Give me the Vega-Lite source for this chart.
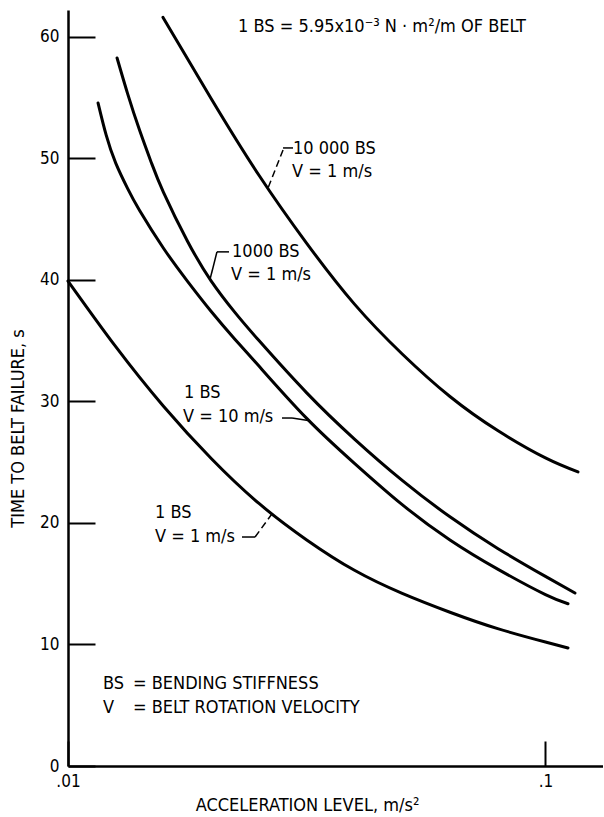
{
  "$schema": "https://vega.github.io/schema/vega-lite/v6.json",
  "width": 535,
  "height": 756,
  "autosize": {"type": "none"},
  "padding": {"left": 68, "top": 10, "right": 0, "bottom": 51},
  "background": "white",
  "config": {
    "view": {"stroke": null},
    "font": "DejaVu Sans Condensed",
    "text": {"font": "DejaVu Sans Condensed", "fontSize": 18, "color": "black"},
    "axis": {
      "labelFont": "DejaVu Sans Condensed",
      "titleFont": "DejaVu Sans Condensed",
      "labelFontSize": 17,
      "titleFontSize": 18,
      "titleFontWeight": "normal",
      "labelColor": "black",
      "titleColor": "black",
      "domainColor": "black",
      "tickColor": "black",
      "domainWidth": 2.5,
      "tickWidth": 2,
      "grid": false,
      "labelFlush": false,
      "labelOverlap": false
    }
  },
  "datasets": {
    "curves": [
      {"series": "1 BS, V = 1 m/s", "a": 0.01, "t": 39.9},
      {"series": "1 BS, V = 1 m/s", "a": 0.012589, "t": 34.5},
      {"series": "1 BS, V = 1 m/s", "a": 0.015849, "t": 29.6},
      {"series": "1 BS, V = 1 m/s", "a": 0.019953, "t": 25.3},
      {"series": "1 BS, V = 1 m/s", "a": 0.025119, "t": 21.6},
      {"series": "1 BS, V = 1 m/s", "a": 0.031623, "t": 18.6},
      {"series": "1 BS, V = 1 m/s", "a": 0.039811, "t": 16.1},
      {"series": "1 BS, V = 1 m/s", "a": 0.050119, "t": 14.2},
      {"series": "1 BS, V = 1 m/s", "a": 0.063096, "t": 12.65},
      {"series": "1 BS, V = 1 m/s", "a": 0.079433, "t": 11.3},
      {"series": "1 BS, V = 1 m/s", "a": 0.1, "t": 10.2},
      {"series": "1 BS, V = 1 m/s", "a": 0.1115, "t": 9.71},

      {"series": "1 BS, V = 10 m/s", "a": 0.01156, "t": 54.55},
      {"series": "1 BS, V = 10 m/s", "a": 0.012023, "t": 51.9},
      {"series": "1 BS, V = 10 m/s", "a": 0.012589, "t": 49.6},
      {"series": "1 BS, V = 10 m/s", "a": 0.013335, "t": 47.5},
      {"series": "1 BS, V = 10 m/s", "a": 0.014125, "t": 45.7},
      {"series": "1 BS, V = 10 m/s", "a": 0.015849, "t": 42.6},
      {"series": "1 BS, V = 10 m/s", "a": 0.017783, "t": 39.9},
      {"series": "1 BS, V = 10 m/s", "a": 0.019953, "t": 37.4},
      {"series": "1 BS, V = 10 m/s", "a": 0.022387, "t": 35.1},
      {"series": "1 BS, V = 10 m/s", "a": 0.025119, "t": 32.9},
      {"series": "1 BS, V = 10 m/s", "a": 0.031623, "t": 28.6},
      {"series": "1 BS, V = 10 m/s", "a": 0.039811, "t": 24.9},
      {"series": "1 BS, V = 10 m/s", "a": 0.050119, "t": 21.5},
      {"series": "1 BS, V = 10 m/s", "a": 0.063096, "t": 18.6},
      {"series": "1 BS, V = 10 m/s", "a": 0.079433, "t": 16.2},
      {"series": "1 BS, V = 10 m/s", "a": 0.1, "t": 14.1},
      {"series": "1 BS, V = 10 m/s", "a": 0.1115, "t": 13.35},

      {"series": "1000 BS, V = 1 m/s", "a": 0.01267, "t": 58.25},
      {"series": "1000 BS, V = 1 m/s", "a": 0.013335, "t": 55.3},
      {"series": "1000 BS, V = 1 m/s", "a": 0.014125, "t": 52.3},
      {"series": "1000 BS, V = 1 m/s", "a": 0.014962, "t": 49.6},
      {"series": "1000 BS, V = 1 m/s", "a": 0.015849, "t": 47.2},
      {"series": "1000 BS, V = 1 m/s", "a": 0.017783, "t": 43.2},
      {"series": "1000 BS, V = 1 m/s", "a": 0.019953, "t": 39.9},
      {"series": "1000 BS, V = 1 m/s", "a": 0.022387, "t": 37.3},
      {"series": "1000 BS, V = 1 m/s", "a": 0.025119, "t": 35.0},
      {"series": "1000 BS, V = 1 m/s", "a": 0.031623, "t": 30.7},
      {"series": "1000 BS, V = 1 m/s", "a": 0.039811, "t": 26.9},
      {"series": "1000 BS, V = 1 m/s", "a": 0.050119, "t": 23.5},
      {"series": "1000 BS, V = 1 m/s", "a": 0.063096, "t": 20.5},
      {"series": "1000 BS, V = 1 m/s", "a": 0.079433, "t": 17.9},
      {"series": "1000 BS, V = 1 m/s", "a": 0.1, "t": 15.6},
      {"series": "1000 BS, V = 1 m/s", "a": 0.1153, "t": 14.23},

      {"series": "10 000 BS, V = 1 m/s", "a": 0.01581, "t": 61.6},
      {"series": "10 000 BS, V = 1 m/s", "a": 0.019953, "t": 54.9},
      {"series": "10 000 BS, V = 1 m/s", "a": 0.025119, "t": 48.6},
      {"series": "10 000 BS, V = 1 m/s", "a": 0.031623, "t": 43.0},
      {"series": "10 000 BS, V = 1 m/s", "a": 0.039811, "t": 38.0},
      {"series": "10 000 BS, V = 1 m/s", "a": 0.050119, "t": 33.9},
      {"series": "10 000 BS, V = 1 m/s", "a": 0.063096, "t": 30.4},
      {"series": "10 000 BS, V = 1 m/s", "a": 0.079433, "t": 27.6},
      {"series": "10 000 BS, V = 1 m/s", "a": 0.1, "t": 25.35},
      {"series": "10 000 BS, V = 1 m/s", "a": 0.117, "t": 24.2}
    ],
    "labels": [
      {"a": 0.0296, "t": 50.76, "text": "10 000 BS"},
      {"a": 0.02946, "t": 48.87, "text": "V = 1 m/s"},
      {"a": 0.02206, "t": 42.25, "text": "1000 BS"},
      {"a": 0.02195, "t": 40.4, "text": "V = 1 m/s"},
      {"a": 0.0175, "t": 30.7, "text": "1 BS"},
      {"a": 0.01741, "t": 28.7, "text": "V = 10 m/s"},
      {"a": 0.01521, "t": 20.8, "text": "1 BS"},
      {"a": 0.01521, "t": 18.84, "text": "V = 1 m/s"},
      {"a": 0.01184, "t": 6.75, "text": "BS"},
      {"a": 0.01184, "t": 4.77, "text": "V"},
      {"a": 0.01368, "t": 6.75, "text": "= BENDING STIFFNESS"},
      {"a": 0.01368, "t": 4.77, "text": "= BELT ROTATION VELOCITY"},
      {"a": 0.02271, "t": 60.8, "text": "1 BS = 5.95x10⁻³ N · m²/m OF BELT"}
    ],
    "leadersSolid": [
      {"a": 0.02821, "t": 50.85, "a2": 0.0296, "t2": 50.85},
      {"a": 0.02051, "t": 42.3, "a2": 0.02174, "t2": 42.3},
      {"a": 0.02051, "t": 42.3, "a2": 0.01984, "t2": 40.05},
      {"a": 0.02807, "t": 28.63, "a2": 0.02946, "t2": 28.63},
      {"a": 0.02946, "t": 28.63, "a2": 0.0321, "t2": 28.4},
      {"a": 0.02314, "t": 18.84, "a2": 0.02465, "t2": 18.84}
    ],
    "leadersDashed": [
      {"a": 0.02821, "t": 50.68, "a2": 0.02624, "t2": 47.56},
      {"a": 0.02465, "t": 18.84, "a2": 0.02675, "t2": 20.75}
    ]
  },
  "encoding": {
    "x": {
      "field": "a",
      "type": "quantitative",
      "scale": {"type": "log", "domain": [0.01, 0.132], "nice": false},
      "axis": {
        "title": "ACCELERATION LEVEL, m/s²",
        "values": [0.01, 0.1],
        "labelExpr": "replace(datum.label, '0.', '.')",
        "tickSize": -25,
        "labelPadding": 32,
        "titleX": 239,
        "titleY": 39,
        "titleBaseline": "middle"
      }
    },
    "y": {
      "field": "t",
      "type": "quantitative",
      "scale": {"domain": [0, 62.2], "nice": false, "zero": false},
      "axis": {
        "title": "TIME TO BELT FAILURE, s",
        "values": [0, 10, 20, 30, 40, 50, 60],
        "tickSize": -27,
        "labelPadding": 36,
        "titleX": -50,
        "titleY": 418,
        "titleBaseline": "middle"
      }
    }
  },
  "layer": [
    {
      "data": {"name": "curves"},
      "mark": {"type": "line", "color": "black", "strokeWidth": 3, "interpolate": "natural", "strokeCap": "round"},
      "encoding": {"detail": {"field": "series"}}
    },
    {
      "data": {"name": "leadersSolid"},
      "mark": {"type": "rule", "color": "black", "strokeWidth": 1.5},
      "encoding": {"x2": {"field": "a2"}, "y2": {"field": "t2"}}
    },
    {
      "data": {"name": "leadersDashed"},
      "mark": {"type": "rule", "color": "black", "strokeWidth": 1.5, "strokeDash": [7, 4]},
      "encoding": {"x2": {"field": "a2"}, "y2": {"field": "t2"}}
    },
    {
      "data": {"name": "labels"},
      "mark": {"type": "text", "align": "left", "baseline": "middle", "color": "black"},
      "encoding": {"text": {"field": "text"}}
    }
  ]
}
